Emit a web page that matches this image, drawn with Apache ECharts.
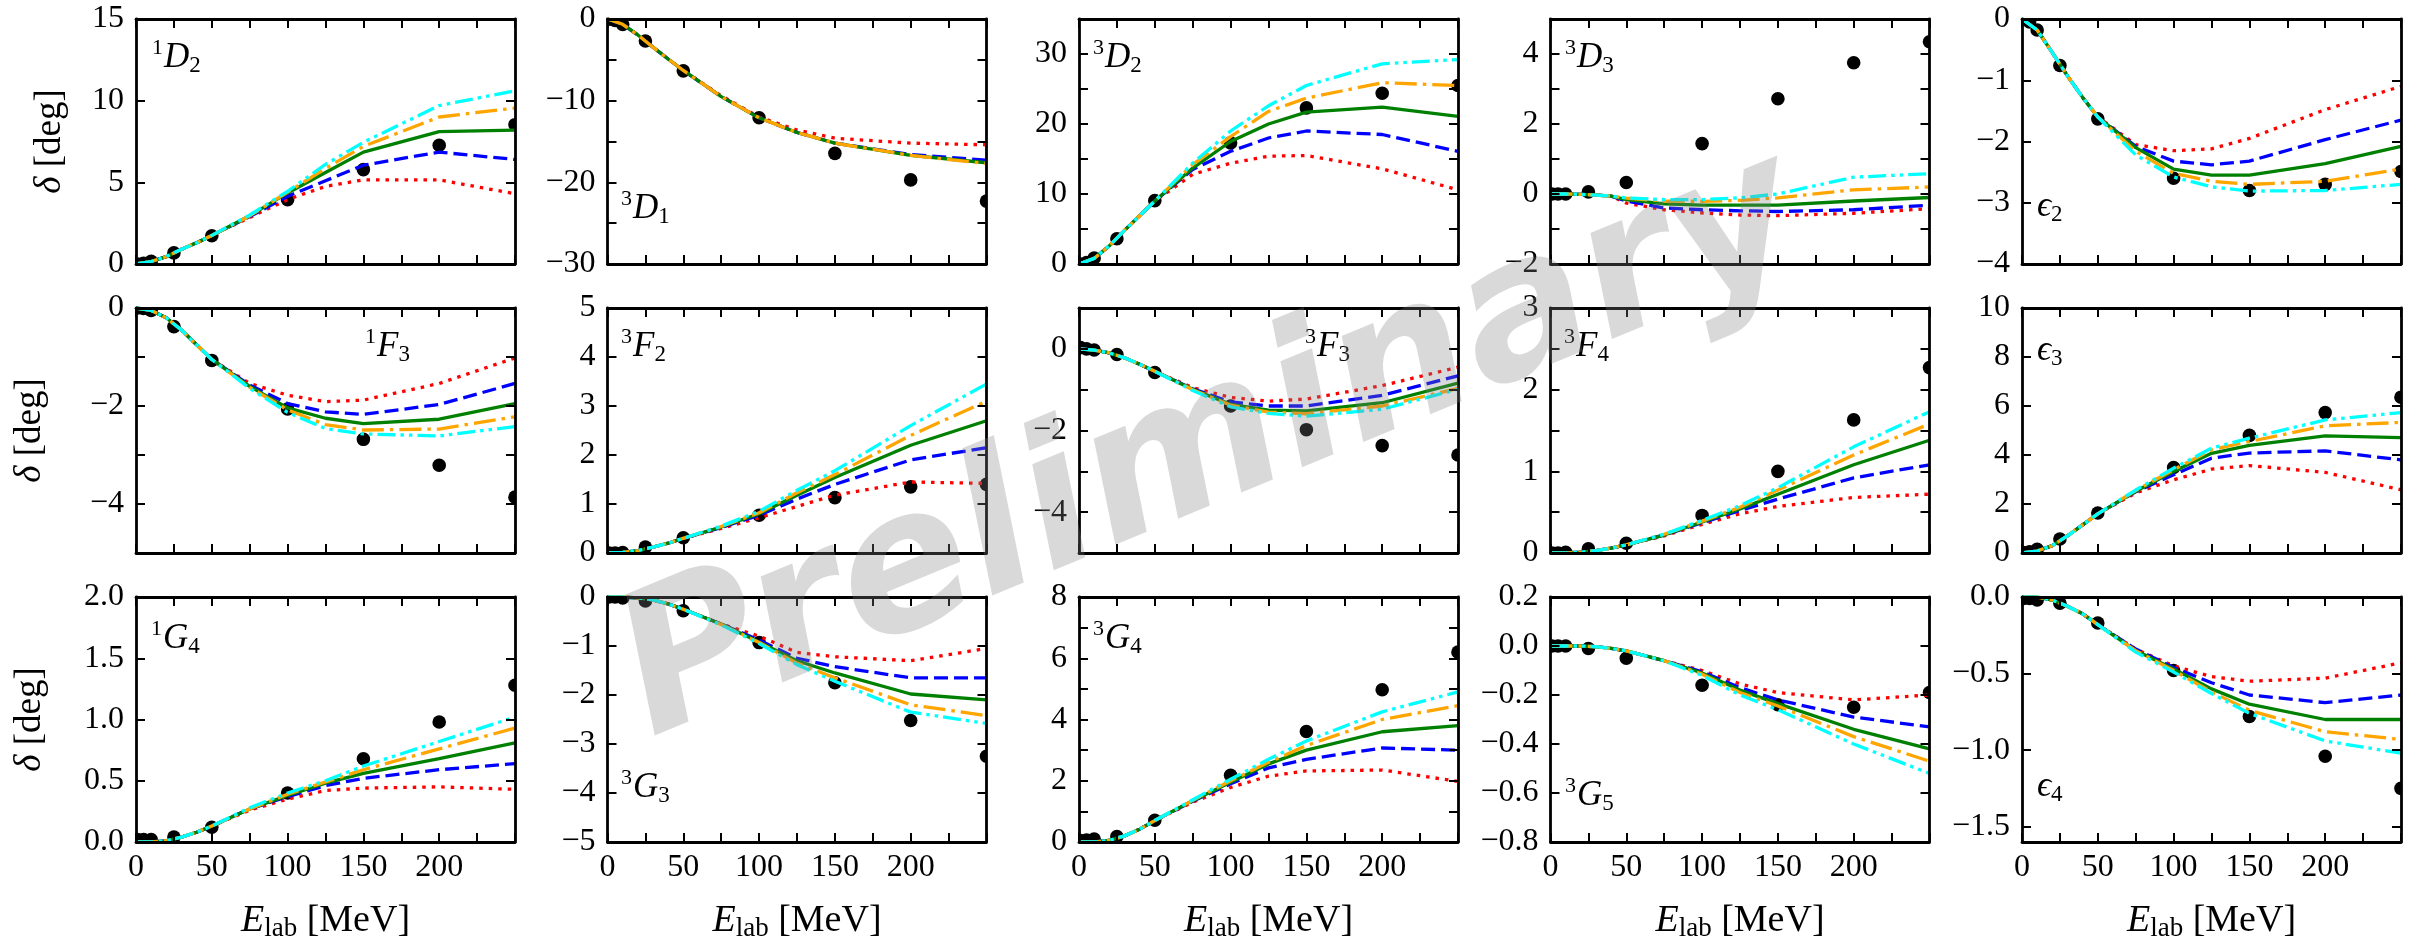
<!DOCTYPE html>
<html><head><meta charset="utf-8">
<script src="https://cdn.jsdelivr.net/npm/echarts@6/dist/echarts.min.js"></script>
<style>html,body{margin:0;padding:0;background:#fff}#c{width:2415px;height:944px}</style>
</head><body><div id="c"></div>
<script>
// ---------- data ----------
const E_CURVE = [0, 10, 20, 30, 40, 50, 75, 100, 125, 150, 200, 250];
const E_DATA = [1, 5, 10, 25, 50, 100, 150, 200, 250];
const X_TICKS = [0, 25, 50, 75, 100, 125, 150, 175, 200, 225, 250];
const X_LABELS = [0, 50, 100, 150, 200];

// 1D2
const d1D2_low = [0, 0.15, 0.45, 0.9, 1.3];
const d1D2_red = [1.75, 2.85, 3.95, 4.75, 5.15, 5.15, 4.3];
const d1D2_blue = [1.75, 2.9, 4.15, 5.1, 6.05, 6.85, 6.4];
const d1D2_green = [1.75, 2.95, 4.35, 5.6, 6.85, 8.1, 8.2];
const d1D2_orange = [1.75, 2.95, 4.4, 5.85, 7.2, 9.0, 9.55];
const d1D2_cyan = [1.75, 3.0, 4.45, 6.1, 7.45, 9.7, 10.6];
const d1D2_pts = [0.0, 0.04, 0.16, 0.68, 1.73, 3.94, 5.78, 7.27, 8.53];
// 3D1
const d3D1_low = [0, -0.65, -1.95, -3.45, -4.9];
const d3D1_red = [-6.3, -9.4, -12.0, -13.6, -14.6, -15.2, -15.4];
const d3D1_blue = [-6.3, -9.5, -12.1, -13.9, -15.2, -16.6, -17.3];
const d3D1_green = [-6.3, -9.5, -12.1, -13.9, -15.2, -16.7, -17.6];
const d3D1_orange = [-6.3, -9.5, -12.1, -13.9, -15.2, -16.7, -17.7];
const d3D1_pts = [-0.01, -0.18, -0.68, -2.7, -6.35, -12.1, -16.45, -19.7, -22.3];
// 3D2
const d3D2_low = [0, 0.8, 2.6, 4.8, 6.9];
const d3D2_red = [9.0, 12.8, 14.4, 15.4, 15.5, 13.6, 10.6];
const d3D2_blue = [9.0, 13.5, 16.1, 18.0, 19.0, 18.5, 16.1];
const d3D2_green = [9.0, 13.7, 17.5, 20.0, 21.7, 22.4, 21.1];
const d3D2_orange = [9.0, 14.2, 18.2, 21.8, 23.7, 25.9, 25.5];
const d3D2_cyan = [9.0, 14.4, 19.0, 22.6, 25.5, 28.6, 29.2];
const d3D2_pts = [0.01, 0.22, 0.85, 3.6, 9.05, 17.3, 22.3, 24.4, 25.5];
// 3D3
const d3D3_low = [0, 0, -0.01, -0.03, -0.06];
const d3D3_red = [-0.26, -0.45, -0.54, -0.6, -0.62, -0.55, -0.42];
const d3D3_blue = [-0.2, -0.4, -0.45, -0.48, -0.5, -0.45, -0.32];
const d3D3_green = [-0.16, -0.28, -0.32, -0.32, -0.32, -0.2, -0.1];
const d3D3_orange = [-0.12, -0.2, -0.21, -0.18, -0.11, 0.12, 0.2];
const d3D3_cyan = [-0.11, -0.16, -0.16, -0.11, 0.0, 0.48, 0.58];
const d3D3_pts = [0.0, 0.0, 0.0, 0.06, 0.33, 1.44, 2.72, 3.75, 4.35];
// eps2
const dE2_low = [0, -0.18, -0.55, -0.93, -1.28];
const dE2_red = [-1.6, -2.05, -2.15, -2.12, -1.95, -1.48, -1.1];
const dE2_blue = [-1.6, -2.08, -2.32, -2.38, -2.32, -1.97, -1.65];
const dE2_green = [-1.6, -2.1, -2.45, -2.55, -2.55, -2.36, -2.08];
const dE2_orange = [-1.6, -2.16, -2.52, -2.65, -2.7, -2.65, -2.45];
const dE2_cyan = [-1.6, -2.22, -2.58, -2.74, -2.81, -2.8, -2.7];
const dE2_pts = [0.0, -0.05, -0.18, -0.76, -1.63, -2.6, -2.8, -2.7, -2.49];
// 1F3
const d1F3_low = [0, -0.05, -0.2, -0.45, -0.75];
const d1F3_red = [-1.05, -1.54, -1.78, -1.91, -1.88, -1.54, -1.02];
const d1F3_blue = [-1.05, -1.57, -1.95, -2.12, -2.17, -1.97, -1.54];
const d1F3_green = [-1.05, -1.6, -2.04, -2.25, -2.36, -2.27, -1.95];
const d1F3_orange = [-1.05, -1.62, -2.08, -2.38, -2.49, -2.47, -2.22];
const d1F3_cyan = [-1.05, -1.64, -2.13, -2.46, -2.57, -2.61, -2.42];
const d1F3_pts = [0.0, -0.01, -0.05, -0.38, -1.07, -2.06, -2.68, -3.21, -3.86];
// 3F2
const d3F2_low = [0, 0.01, 0.05, 0.12, 0.2];
const d3F2_red = [0.3, 0.5, 0.72, 0.95, 1.18, 1.45, 1.42];
const d3F2_blue = [0.3, 0.52, 0.77, 1.1, 1.4, 1.9, 2.15];
const d3F2_green = [0.3, 0.53, 0.8, 1.18, 1.54, 2.2, 2.7];
const d3F2_orange = [0.3, 0.54, 0.82, 1.23, 1.6, 2.4, 3.1];
const d3F2_cyan = [0.3, 0.55, 0.85, 1.28, 1.68, 2.6, 3.45];
const d3F2_pts = [0.0, 0.0, 0.01, 0.12, 0.31, 0.77, 1.13, 1.35, 1.4];
// 3F3
const d3F3_low = [0, -0.03, -0.1, -0.22, -0.38];
const d3F3_red = [-0.55, -0.95, -1.19, -1.28, -1.23, -0.9, -0.45];
const d3F3_blue = [-0.55, -0.98, -1.3, -1.4, -1.4, -1.14, -0.66];
const d3F3_green = [-0.55, -0.99, -1.36, -1.5, -1.52, -1.32, -0.84];
const d3F3_orange = [-0.55, -1.0, -1.38, -1.55, -1.59, -1.4, -0.97];
const d3F3_cyan = [-0.55, -1.02, -1.42, -1.58, -1.65, -1.48, -0.99];
const d3F3_pts = [0.03, 0.0, -0.03, -0.14, -0.58, -1.4, -1.98, -2.37, -2.6];
// 3F4
const d3F4_low = [0, 0, 0.01, 0.03, 0.06];
const d3F4_red = [0.1, 0.21, 0.35, 0.48, 0.57, 0.68, 0.72];
const d3F4_blue = [0.1, 0.22, 0.37, 0.52, 0.66, 0.92, 1.08];
const d3F4_green = [0.1, 0.22, 0.38, 0.54, 0.72, 1.08, 1.38];
const d3F4_orange = [0.1, 0.23, 0.39, 0.56, 0.77, 1.2, 1.58];
const d3F4_cyan = [0.1, 0.23, 0.4, 0.58, 0.8, 1.3, 1.73];
const d3F4_pts = [0.0, 0.0, 0.01, 0.05, 0.12, 0.46, 1.0, 1.63, 2.27];
// eps3
const dE3_low = [0, 0.08, 0.3, 0.7, 1.15];
const dE3_red = [1.6, 2.45, 2.99, 3.42, 3.57, 3.29, 2.58];
const dE3_blue = [1.6, 2.5, 3.19, 3.87, 4.08, 4.17, 3.8];
const dE3_green = [1.6, 2.52, 3.33, 4.07, 4.39, 4.78, 4.71];
const dE3_orange = [1.6, 2.55, 3.4, 4.21, 4.55, 5.19, 5.33];
const dE3_cyan = [1.6, 2.57, 3.46, 4.28, 4.69, 5.43, 5.73];
const dE3_pts = [0.02, 0.05, 0.15, 0.57, 1.63, 3.49, 4.8, 5.73, 6.36];
// 1G4
const d1G4_low = [0, 0, 0.01, 0.04, 0.08];
const d1G4_red = [0.13, 0.26, 0.35, 0.42, 0.44, 0.45, 0.43];
const d1G4_blue = [0.13, 0.27, 0.37, 0.46, 0.52, 0.59, 0.64];
const d1G4_green = [0.13, 0.27, 0.38, 0.48, 0.56, 0.68, 0.81];
const d1G4_orange = [0.13, 0.27, 0.39, 0.49, 0.59, 0.76, 0.93];
const d1G4_cyan = [0.13, 0.28, 0.4, 0.5, 0.62, 0.82, 1.02];
const d1G4_pts = [0.02, 0.02, 0.02, 0.04, 0.12, 0.4, 0.68, 0.98, 1.28];
// 3G3
const d3G3_low = [0, 0, -0.02, -0.06, -0.14];
const d3G3_red = [-0.25, -0.55, -0.8, -1.13, -1.22, -1.3, -1.05];
const d3G3_blue = [-0.25, -0.55, -0.88, -1.25, -1.42, -1.65, -1.65];
const d3G3_green = [-0.25, -0.55, -0.92, -1.3, -1.55, -1.98, -2.1];
const d3G3_orange = [-0.25, -0.56, -0.93, -1.35, -1.65, -2.2, -2.42];
const d3G3_cyan = [-0.25, -0.57, -0.95, -1.38, -1.72, -2.35, -2.58];
const d3G3_pts = [0.0, 0.0, -0.02, -0.08, -0.28, -0.93, -1.75, -2.52, -3.25];
// 3G4
const d3G4_low = [0, 0, 0.05, 0.2, 0.42];
const d3G4_red = [0.7, 1.3, 1.78, 2.15, 2.32, 2.35, 1.98];
const d3G4_blue = [0.7, 1.33, 1.9, 2.42, 2.7, 3.07, 3.0];
const d3G4_green = [0.7, 1.35, 1.95, 2.55, 3.0, 3.6, 3.8];
const d3G4_orange = [0.7, 1.36, 2.0, 2.6, 3.15, 4.0, 4.45];
const d3G4_cyan = [0.7, 1.38, 2.05, 2.7, 3.3, 4.25, 4.9];
const d3G4_pts = [0.05, 0.06, 0.1, 0.18, 0.71, 2.18, 3.61, 4.97, 6.2];
// 3G5
const d3G5_low = [0, 0, 0, -0.003, -0.01];
const d3G5_red = [-0.02, -0.06, -0.1, -0.155, -0.19, -0.22, -0.2];
const d3G5_blue = [-0.02, -0.06, -0.105, -0.17, -0.22, -0.29, -0.33];
const d3G5_green = [-0.02, -0.06, -0.11, -0.18, -0.235, -0.34, -0.42];
const d3G5_orange = [-0.02, -0.06, -0.115, -0.19, -0.245, -0.37, -0.47];
const d3G5_cyan = [-0.02, -0.06, -0.12, -0.2, -0.26, -0.4, -0.52];
const d3G5_pts = [0.0, 0.0, 0.0, -0.01, -0.05, -0.16, -0.24, -0.25, -0.19];
// eps4
const dE4_low = [0, 0, -0.02, -0.06, -0.11];
const dE4_red = [-0.18, -0.34, -0.45, -0.52, -0.55, -0.53, -0.43];
const dE4_blue = [-0.18, -0.34, -0.46, -0.56, -0.64, -0.69, -0.64];
const dE4_green = [-0.18, -0.35, -0.47, -0.6, -0.7, -0.8, -0.8];
const dE4_orange = [-0.18, -0.35, -0.48, -0.62, -0.74, -0.88, -0.93];
const dE4_cyan = [-0.18, -0.36, -0.49, -0.63, -0.76, -0.94, -1.02];
const dE4_pts = [-0.01, -0.01, -0.02, -0.04, -0.17, -0.48, -0.78, -1.04, -1.25];

// y-axis ranges / tick values / tick labels
const Y_1D2 = {min: 0, max: 15, ticks: [0, 5, 10, 15], labels: [0, 5, 10, 15], dec: 0};
const Y_3D1 = {min: -30, max: 0, ticks: [-30, -25, -20, -15, -10, -5, 0], labels: [-30, -20, -10, 0], dec: 0};
const Y_3D2 = {min: 0, max: 35, ticks: [0, 5, 10, 15, 20, 25, 30, 35], labels: [0, 10, 20, 30], dec: 0};
const Y_3D3 = {min: -2, max: 5, ticks: [-2, -1, 0, 1, 2, 3, 4, 5], labels: [-2, 0, 2, 4], dec: 0};
const Y_E2 = {min: -4, max: 0, ticks: [-4, -3, -2, -1, 0], labels: [-4, -3, -2, -1, 0], dec: 0};
const Y_1F3 = {min: -5, max: 0, ticks: [-5, -4, -3, -2, -1, 0], labels: [-4, -2, 0], dec: 0};
const Y_3F2 = {min: 0, max: 5, ticks: [0, 1, 2, 3, 4, 5], labels: [0, 1, 2, 3, 4, 5], dec: 0};
const Y_3F3 = {min: -5, max: 1, ticks: [-5, -4, -3, -2, -1, 0, 1], labels: [-4, -2, 0], dec: 0};
const Y_3F4 = {min: 0, max: 3, ticks: [0, 0.5, 1, 1.5, 2, 2.5, 3], labels: [0, 1, 2, 3], dec: 0};
const Y_E3 = {min: 0, max: 10, ticks: [0, 2, 4, 6, 8, 10], labels: [0, 2, 4, 6, 8, 10], dec: 0};
const Y_1G4 = {min: 0, max: 2, ticks: [0, 0.5, 1, 1.5, 2], labels: [0, 0.5, 1, 1.5, 2], dec: 1};
const Y_3G3 = {min: -5, max: 0, ticks: [-5, -4, -3, -2, -1, 0], labels: [-5, -4, -3, -2, -1, 0], dec: 0};
const Y_3G4 = {min: 0, max: 8, ticks: [0, 1, 2, 3, 4, 5, 6, 7, 8], labels: [0, 2, 4, 6, 8], dec: 0};
const Y_3G5 = {min: -0.8, max: 0.2, ticks: [-0.8, -0.6, -0.4, -0.2, 0, 0.2], labels: [-0.8, -0.6, -0.4, -0.2, 0, 0.2], dec: 1};
const Y_E4 = {min: -1.6, max: 0, ticks: [-1.5, -1, -0.5, 0], labels: [-1.5, -1, -0.5, 0], dec: 1};

const PANEL_LABELS = ['{sup|1}{it|D}{sub|2}', '{sup|3}{it|D}{sub|1}', '{sup|3}{it|D}{sub|2}', '{sup|3}{it|D}{sub|3}', '{it|ϵ}{sub|2}',
  '{sup|1}{it|F}{sub|3}', '{sup|3}{it|F}{sub|2}', '{sup|3}{it|F}{sub|3}', '{sup|3}{it|F}{sub|4}', '{it|ϵ}{sub|3}',
  '{sup|1}{it|G}{sub|4}', '{sup|3}{it|G}{sub|3}', '{sup|3}{it|G}{sub|4}', '{sup|3}{it|G}{sub|5}', '{it|ϵ}{sub|4}'];

const PANELS = [
  {y: Y_1D2, low: d1D2_low, red: d1D2_red, blue: d1D2_blue, green: d1D2_green, orange: d1D2_orange, cyan: d1D2_cyan, pts: d1D2_pts},
  {y: Y_3D1, low: d3D1_low, red: d3D1_red, blue: d3D1_blue, green: d3D1_green, orange: d3D1_orange, cyan: null, pts: d3D1_pts},
  {y: Y_3D2, low: d3D2_low, red: d3D2_red, blue: d3D2_blue, green: d3D2_green, orange: d3D2_orange, cyan: d3D2_cyan, pts: d3D2_pts},
  {y: Y_3D3, low: d3D3_low, red: d3D3_red, blue: d3D3_blue, green: d3D3_green, orange: d3D3_orange, cyan: d3D3_cyan, pts: d3D3_pts},
  {y: Y_E2, low: dE2_low, red: dE2_red, blue: dE2_blue, green: dE2_green, orange: dE2_orange, cyan: dE2_cyan, pts: dE2_pts},
  {y: Y_1F3, low: d1F3_low, red: d1F3_red, blue: d1F3_blue, green: d1F3_green, orange: d1F3_orange, cyan: d1F3_cyan, pts: d1F3_pts},
  {y: Y_3F2, low: d3F2_low, red: d3F2_red, blue: d3F2_blue, green: d3F2_green, orange: d3F2_orange, cyan: d3F2_cyan, pts: d3F2_pts},
  {y: Y_3F3, low: d3F3_low, red: d3F3_red, blue: d3F3_blue, green: d3F3_green, orange: d3F3_orange, cyan: d3F3_cyan, pts: d3F3_pts},
  {y: Y_3F4, low: d3F4_low, red: d3F4_red, blue: d3F4_blue, green: d3F4_green, orange: d3F4_orange, cyan: d3F4_cyan, pts: d3F4_pts},
  {y: Y_E3, low: dE3_low, red: dE3_red, blue: dE3_blue, green: dE3_green, orange: dE3_orange, cyan: dE3_cyan, pts: dE3_pts},
  {y: Y_1G4, low: d1G4_low, red: d1G4_red, blue: d1G4_blue, green: d1G4_green, orange: d1G4_orange, cyan: d1G4_cyan, pts: d1G4_pts},
  {y: Y_3G3, low: d3G3_low, red: d3G3_red, blue: d3G3_blue, green: d3G3_green, orange: d3G3_orange, cyan: d3G3_cyan, pts: d3G3_pts},
  {y: Y_3G4, low: d3G4_low, red: d3G4_red, blue: d3G4_blue, green: d3G4_green, orange: d3G4_orange, cyan: d3G4_cyan, pts: d3G4_pts},
  {y: Y_3G5, low: d3G5_low, red: d3G5_red, blue: d3G5_blue, green: d3G5_green, orange: d3G5_orange, cyan: d3G5_cyan, pts: d3G5_pts},
  {y: Y_E4, low: dE4_low, red: dE4_red, blue: dE4_blue, green: dE4_green, orange: dE4_orange, cyan: dE4_cyan, pts: dE4_pts}
];

// ---------- layout & styles ----------
const GL = [136, 607.5, 1079, 1550.5, 2022];
const GT = [19, 308, 597];
const GW = 379, GH = 245;
const LABEL_POS = [[152, 58], [621, 209], [1093, 58], [1565, 58], [2037, 207],
  [365, 347], [621, 347], [1305, 347], [1564, 347], [2037, 351],
  [151, 639], [621, 788], [1093, 639], [1565, 796], [2037, 787]];
const SERIF = '"Liberation Serif", "DejaVu Serif", serif';
const MODELS = [
  {key: 'red', color: '#ff0000', dash: [3.5, 6]},
  {key: 'blue', color: '#0000ff', dash: [14, 6]},
  {key: 'green', color: '#008000', dash: 'solid'},
  {key: 'orange', color: '#ffa500', dash: [22, 6, 3.5, 6]},
  {key: 'cyan', color: '#00ffff', dash: [18, 5, 3.5, 5, 3.5, 5]}
];
const fmt = (dec) => (v) => {
  let s = dec ? Number(v).toFixed(dec) : String(Math.round(v));
  if (s === '-0' || s === '-0.0') s = s.slice(1);
  return s.replace('-', '\u2212');
};

const grids = [], xAxes = [], yAxes = [], series = [], graphics = [];
const axisLine = {show: true, onZero: false, lineStyle: {color: '#000', width: 2.8}};
const tickStyle = {color: '#000', width: 2};

PANELS.forEach((p, k) => {
  const r = Math.floor(k / 5), c = k % 5;
  grids.push({left: GL[c], top: GT[r], width: GW, height: GH, containLabel: false, outerBoundsMode: 'none'});
  ['bottom', 'top'].forEach((pos, j) => {
    xAxes.push({
      gridIndex: k, type: 'value', position: pos, min: 0, max: 250, z: 5,
      axisLine: axisLine,
      axisTick: {show: true, inside: true, length: 9, lineStyle: tickStyle, customValues: X_TICKS},
      axisLabel: {show: j === 0 && r === 2, customValues: X_LABELS, margin: 10, color: '#000',
        fontFamily: SERIF, fontSize: 32, hideOverlap: false, showMinLabel: true, showMaxLabel: true},
      splitLine: {show: false}
    });
  });
  ['left', 'right'].forEach((pos, j) => {
    yAxes.push({
      gridIndex: k, type: 'value', position: pos, min: p.y.min, max: p.y.max, z: 5,
      axisLine: axisLine,
      axisTick: {show: true, inside: true, length: 9, lineStyle: tickStyle, customValues: p.y.ticks},
      axisLabel: {show: j === 0, customValues: p.y.labels, margin: 12, color: '#000', formatter: fmt(p.y.dec),
        fontFamily: SERIF, fontSize: 32, hideOverlap: false, showMinLabel: true, showMaxLabel: true},
      splitLine: {show: false}
    });
  });
  // data points (clipped to the panel)
  series.push({
    type: 'custom', xAxisIndex: 2 * k, yAxisIndex: 2 * k, clip: true, z: 2,
    data: E_DATA.map((e, i) => [e, p.pts[i]]),
    encode: {x: 0, y: 1},
    renderItem: (params, api) => {
      const q = api.coord([api.value(0), api.value(1)]);
      return {type: 'circle', shape: {cx: q[0], cy: q[1], r: 6.8}, style: {fill: '#000'}};
    }
  });
  MODELS.forEach((m) => {
    const vals = p[m.key];
    if (!vals) return;
    const full = p.low.concat(vals);
    series.push({
      type: 'line', xAxisIndex: 2 * k, yAxisIndex: 2 * k, z: 3, clip: true,
      showSymbol: false, symbol: 'none', silent: true,
      lineStyle: {color: m.color, width: 3.3, type: m.dash, cap: 'butt'},
      data: E_CURVE.map((e, i) => [e, full[i]])
    });
  });
  graphics.push({
    type: 'text', x: LABEL_POS[k][0], y: LABEL_POS[k][1], z: 10,
    style: {
      text: PANEL_LABELS[k], align: 'left', verticalAlign: 'middle', fill: '#000',
      rich: {
        it: {fontFamily: SERIF, fontStyle: 'italic', fontSize: 35, lineHeight: 48, fill: '#000', color: '#000'},
        sup: {fontFamily: SERIF, fontSize: 22, padding: [0, 1, 19, 0], fill: '#000', color: '#000'},
        sub: {fontFamily: SERIF, fontSize: 23, padding: [15, 0, 0, 0], fill: '#000', color: '#000'}
      }
    }
  });
});

// axis titles
const YLAB_X = [50, 30, 30];
GT.forEach((t, r) => {
  graphics.push({
    type: 'text', x: YLAB_X[r], y: t + GH / 2, rotation: Math.PI / 2, z: 10,
    style: {
      text: '{it|δ} [deg]', align: 'center', verticalAlign: 'middle', fill: '#000',
      font: '37px ' + SERIF,
      rich: {it: {fontFamily: SERIF, fontStyle: 'italic', fontSize: 37, fill: '#000', color: '#000'}}
    }
  });
});
GL.forEach((l) => {
  graphics.push({
    type: 'text', x: l + GW / 2, y: 921, z: 10,
    style: {
      text: '{it|E}{sub|lab} [MeV]', align: 'center', verticalAlign: 'middle', fill: '#000',
      font: '38px ' + SERIF,
      rich: {
        it: {fontFamily: SERIF, fontStyle: 'italic', fontSize: 38, lineHeight: 50, fill: '#000', color: '#000'},
        sub: {fontFamily: SERIF, fontSize: 27, padding: [16, 0, 0, 0], fill: '#000', color: '#000'}
      }
    }
  });
});
// watermark
graphics.push({
  type: 'text', x: 1212, y: 450, rotation: 22.5 * Math.PI / 180, z: 100,
  style: {
    text: 'Preliminary', align: 'center', verticalAlign: 'middle',
    font: 'italic bold 194px "DejaVu Sans", sans-serif',
    fill: 'rgba(128,128,128,0.3)'
  }
});

const chart = echarts.init(document.getElementById('c'), null, {renderer: 'canvas'});
chart.setOption({
  animation: false,
  backgroundColor: '#fff',
  grid: grids, xAxis: xAxes, yAxis: yAxes, series: series,
  graphic: graphics
});
</script></body></html>
